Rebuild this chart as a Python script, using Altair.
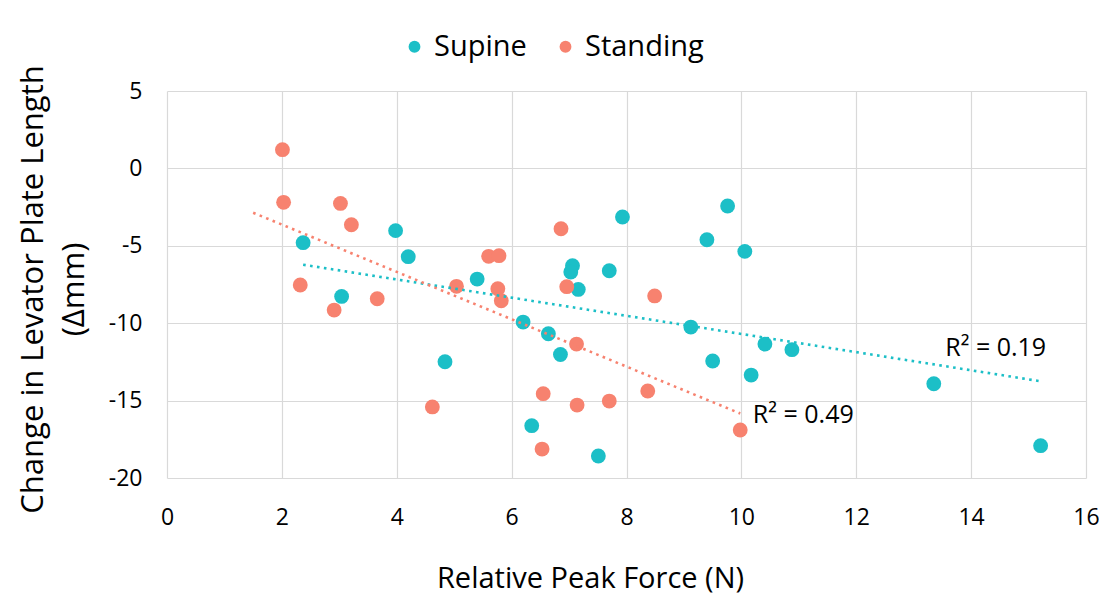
import altair as alt
import pandas as pd

# Supine series
supine_x = [2.37, 3.98, 4.20, 3.04, 4.84, 5.40, 7.06, 7.03, 7.16, 7.70, 7.93, 9.40, 9.76,
            10.06, 6.20, 6.64, 6.85, 9.12, 9.50, 10.17, 10.41, 6.35, 7.51, 10.88, 13.35, 15.21]
supine_y = [-4.80, -4.02, -5.70, -8.27, -12.49, -7.15, -6.29, -6.70, -7.82, -6.61, -3.14, -4.61, -2.43,
            -5.36, -9.93, -10.68, -12.02, -10.25, -12.44, -13.35, -11.35, -16.62, -18.58, -11.71, -13.91, -17.91]

# Standing series
standing_x = [2.01, 2.03, 3.02, 3.21, 2.32, 2.91, 3.66, 5.04, 4.62, 5.60, 5.78, 5.76, 5.82,
              6.86, 6.96, 8.49, 7.13, 6.55, 7.14, 7.70, 8.37, 6.53, 9.98]
standing_y = [1.21, -2.19, -2.26, -3.64, -7.53, -9.15, -8.42, -7.62, -15.41, -5.68, -5.64, -7.77, -8.55,
              -3.90, -7.64, -8.24, -11.35, -14.55, -15.29, -15.03, -14.38, -18.13, -16.90]

series_names = ["Supine", "Standing"]
series_colors = ["#1CBFC7", "#F7826F"]

r2_labels = ["R\u00b2 = 0.19", "R\u00b2 = 0.49"]
r2_x = [13.55, 10.2]
r2_y = [-11.58, -15.91]

x_ticks = [0, 2, 4, 6, 8, 10, 12, 14, 16]
y_ticks = [5, 0, -5, -10, -15, -20]

df = pd.concat([
    pd.DataFrame({"x": supine_x, "y": supine_y, "series": "Supine"}),
    pd.DataFrame({"x": standing_x, "y": standing_y, "series": "Standing"}),
], ignore_index=True)

lab = pd.DataFrame({"x": r2_x, "y": r2_y, "text": r2_labels})

FONT = "Open Sans"
LABEL_EXPR = "'' + datum.value"

xenc = alt.X("x:Q", scale=alt.Scale(domain=[0, 16], nice=False),
             axis=alt.Axis(values=x_ticks, title="Relative Peak Force (N)", grid=True,
                           domain=False, ticks=False, labelFontSize=23, labelPadding=28,
                           labelExpr=LABEL_EXPR,
                           titleFontSize=29, titleFontWeight="normal", titleX=423, titleY=100,
                           titleBaseline="middle", labelFlush=False))
yenc = alt.Y("y:Q", scale=alt.Scale(domain=[-20, 5], nice=False),
             axis=alt.Axis(values=y_ticks, title=["Change in Levator Plate Length", "(\u0394mm)"],
                           grid=True, domain=False, ticks=False, labelFontSize=23, labelPadding=25,
                           labelExpr=LABEL_EXPR,
                           titleFontSize=31, titleFontWeight="normal", titlePadding=18,
                           titleLineHeight=41, titleY=198, labelFlush=False))

color = alt.Color("series:N", scale=alt.Scale(domain=series_names, range=series_colors),
                  legend=alt.Legend(title=None, orient="none", direction="horizontal",
                                    legendX=233, legendY=-59, labelFontSize=29,
                                    symbolType="circle", symbolSize=140, symbolStrokeWidth=0,
                                    columnPadding=24, labelOffset=5))

base = alt.Chart(df)

points = base.mark_circle(size=220, opacity=1).encode(x=xenc, y=yenc, color=color)

trend_sup = base.transform_filter(alt.datum.series == "Supine").transform_regression(
    "x", "y", extent=[2.37, 15.21]).mark_line(
    color=series_colors[0], strokeWidth=2.6, strokeDash=[2.6, 4.4]).encode(x="x:Q", y="y:Q")

trend_std = base.transform_filter(alt.datum.series == "Standing").transform_regression(
    "x", "y", extent=[1.5, 9.98]).mark_line(
    color=series_colors[1], strokeWidth=2.6, strokeDash=[2.6, 4.4]).encode(x="x:Q", y="y:Q")

labels = alt.Chart(lab).mark_text(align="left", baseline="middle", fontSize=25, font=FONT,
                                  color="#000000").encode(x="x:Q", y="y:Q", text="text:N")

chart = alt.layer(points, trend_sup, trend_std, labels).properties(
    width=919, height=387,
    autosize=alt.AutoSizeParams(type="none"),
    padding={"left": 159, "top": 83, "right": 13, "bottom": 119},
).configure(font=FONT).configure_axis(
    gridColor="#D9D9D9", gridWidth=1.2, labelColor="#000000", titleColor="#000000",
    labelFont=FONT, titleFont=FONT
).configure_legend(labelFont=FONT, labelColor="#000000").configure_view(stroke=None)

chart.save("out.html", embed_options={"renderer": "svg", "actions": False})
